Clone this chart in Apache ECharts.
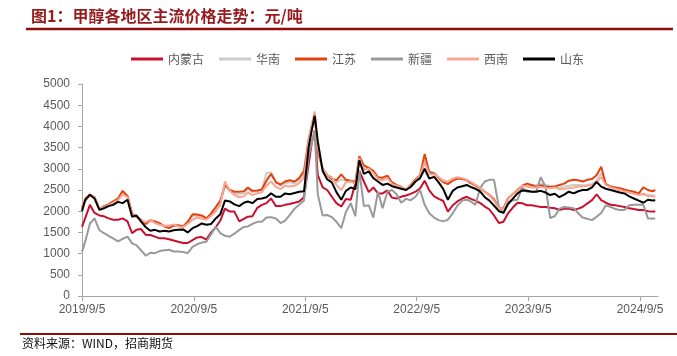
<!DOCTYPE html>
<html><head><meta charset="utf-8">
<script src="https://cdn.jsdelivr.net/npm/echarts@6/dist/echarts.min.js"></script>
<style>html,body{margin:0;padding:0;background:#fff}#c{width:677px;height:356px}</style>
</head><body><div id="c"></div>
<script>
const dates = [
'2019-09-05','2019-09-16','2019-10-01','2019-10-16','2019-11-01','2019-11-16','2019-12-01','2019-12-16',
'2020-01-01','2020-01-16','2020-02-01','2020-02-16','2020-03-01','2020-03-16','2020-04-01','2020-04-16',
'2020-05-01','2020-05-16','2020-06-01','2020-06-16','2020-07-01','2020-07-16','2020-08-01','2020-08-16',
'2020-09-01','2020-09-16','2020-10-01','2020-10-16','2020-11-01','2020-11-16','2020-12-01','2020-12-16',
'2021-01-01','2021-01-16','2021-02-01','2021-02-16','2021-03-01','2021-03-16','2021-04-01','2021-04-16',
'2021-05-01','2021-05-16','2021-06-01','2021-06-16','2021-07-01','2021-07-16','2021-08-01','2021-08-16',
'2021-09-01','2021-09-16','2021-09-26','2021-10-06','2021-10-16','2021-11-01','2021-11-16','2021-12-01',
'2021-12-16','2022-01-01','2022-01-16','2022-02-01','2022-02-16','2022-03-01','2022-03-16','2022-04-01',
'2022-04-16','2022-05-01','2022-05-16','2022-06-01','2022-06-16','2022-07-01','2022-07-16','2022-08-01',
'2022-08-16','2022-09-01','2022-09-16','2022-10-01','2022-10-16','2022-11-01','2022-11-16','2022-12-01',
'2022-12-16','2023-01-01','2023-01-16','2023-02-01','2023-02-16','2023-03-01','2023-03-16','2023-04-01',
'2023-04-16','2023-05-01','2023-05-16','2023-06-01','2023-06-16','2023-07-01','2023-07-16','2023-08-01',
'2023-08-16','2023-09-01','2023-09-16','2023-10-01','2023-10-16','2023-11-01','2023-11-16','2023-12-01',
'2023-12-16','2024-01-01','2024-01-16','2024-02-01','2024-02-16','2024-03-01','2024-03-16','2024-04-01',
'2024-04-16','2024-05-01','2024-05-16','2024-06-01','2024-06-16','2024-07-01','2024-07-16','2024-08-01',
'2024-08-16','2024-09-01','2024-09-16','2024-10-01','2024-10-16','2024-10-25'
];

const neimenggu = [
1630,1850,2150,1960,1900,1880,1830,1800,1800,1830,1760,1480,1560,1580,1440,1440,
1400,1360,1360,1340,1310,1280,1250,1250,1320,1380,1390,1330,1500,1620,1780,2060,
1990,1990,1760,1820,1870,1880,2080,2150,2190,2300,2120,2120,2150,2170,2200,2230,
2330,3100,3600,3900,2850,2560,2500,2340,2190,2110,2290,2270,2650,2950,2700,2450,
2560,2420,2420,2490,2320,2300,2340,2370,2410,2460,2540,2720,2490,2350,2290,2240,
1990,2140,2230,2300,2340,2290,2250,2190,2110,2040,1900,1720,1750,1950,2080,2200,
2190,2140,2140,2120,2100,2100,2080,2070,2030,2060,2060,2030,2060,2100,2180,2260,
2400,2260,2200,2150,2140,2120,2100,2070,2050,2030,2030,2000,1990,1990
];

const huanan = [
2080,2280,2380,2320,2060,2110,2150,2210,2280,2440,2350,1940,1870,1790,1710,1780,
1740,1700,1640,1620,1670,1660,1630,1720,1880,1890,1860,1820,1920,2060,2200,2600,
2480,2420,2400,2420,2520,2450,2470,2520,2900,2920,2700,2600,2660,2680,2660,2740,
2900,3600,3950,4250,3450,2980,2840,2760,2680,2750,2720,2700,2660,3200,3020,3000,
2920,2780,2760,2800,2660,2600,2560,2510,2610,2730,2840,3200,2950,2900,2790,2700,
2660,2740,2780,2770,2740,2670,2610,2540,2450,2370,2260,2050,2060,2290,2400,2500,
2590,2600,2600,2620,2640,2620,2600,2580,2560,2580,2600,2620,2620,2610,2620,2640,
2720,2900,2640,2580,2550,2520,2490,2460,2430,2400,2420,2380,2370,2360
];

const jiangsu = [
2100,2250,2380,2330,2050,2120,2160,2230,2300,2480,2360,1950,1870,1800,1700,1790,
1760,1720,1640,1600,1660,1670,1640,1750,1930,1920,1900,1830,1950,2100,2250,2620,
2500,2460,2460,2470,2560,2480,2490,2510,2720,2880,2680,2630,2700,2730,2700,2780,
2950,3700,4000,4300,3400,3000,2850,2760,2730,2870,2740,2720,2690,3300,3080,3020,
2950,2800,2790,2840,2680,2620,2570,2510,2620,2750,2850,3350,2920,2890,2780,2680,
2640,2720,2770,2760,2730,2660,2610,2540,2460,2380,2280,2060,2070,2300,2400,2500,
2600,2650,2620,2570,2610,2580,2570,2580,2620,2650,2720,2740,2730,2700,2740,2760,
2850,3050,2640,2580,2560,2540,2510,2480,2460,2420,2560,2500,2470,2500
];

const xinjiang = [
1040,1300,1710,1830,1550,1480,1420,1360,1290,1350,1400,1240,1200,1080,950,1020,
1010,1060,1080,1090,1050,1050,1040,1010,1160,1220,1260,1280,1460,1630,1480,1420,
1400,1470,1560,1630,1640,1700,1750,1750,1850,1860,1830,1720,1780,1910,2060,2150,
2250,3300,3600,3900,2400,1900,1910,1860,1750,1600,1980,2190,1880,2950,2120,2140,
1850,2460,2070,2460,2500,2400,2200,2290,2260,2340,2500,2150,1950,1850,1790,1760,
1800,1950,2130,2250,2270,2230,2150,2550,2700,2740,2740,2100,1950,2200,2260,2270,
2560,2460,2460,2460,2800,2570,1840,1880,2060,2100,2090,2070,1950,1850,1820,1790,
1870,1960,2140,2100,2050,2030,2030,2140,2150,2150,2150,1830,1830,1830
];

const xinan = [
2050,2300,2400,2320,2060,2100,2140,2200,2260,2400,2330,1930,1880,1790,1740,1800,
1720,1680,1650,1660,1690,1640,1620,1700,1800,1850,1820,1800,1890,2000,2150,2700,
2480,2380,2330,2350,2440,2380,2420,2450,2600,2700,2570,2520,2600,2580,2600,2660,
2800,3650,4050,4350,3500,2980,2850,2800,2620,2500,2680,2700,2650,3250,2980,3000,
2900,2760,2730,2780,2640,2600,2560,2520,2600,2720,2830,3150,2880,2870,2800,2720,
2700,2770,2800,2780,2740,2690,2620,2550,2450,2370,2250,2060,2050,2280,2400,2520,
2600,2580,2560,2560,2570,2550,2540,2560,2520,2530,2540,2560,2580,2580,2600,2620,
2700,2800,2620,2560,2530,2500,2470,2440,2410,2380,2400,2360,2350,2340
];

const shandong = [
2000,2280,2390,2300,2030,2070,2120,2150,2220,2190,2270,1870,1900,1760,1620,1540,
1560,1520,1540,1520,1550,1560,1570,1500,1600,1650,1710,1680,1700,1830,1930,2250,
2230,2160,2120,2200,2230,2190,2290,2300,2330,2420,2340,2340,2420,2400,2430,2460,
2470,3500,3900,4250,3650,2950,2750,2680,2450,2270,2480,2560,2520,3200,2880,2940,
2780,2700,2620,2650,2590,2560,2530,2500,2570,2700,2780,3000,2770,2810,2680,2520,
2270,2480,2560,2590,2620,2570,2530,2460,2330,2250,2130,2000,1960,2170,2290,2420,
2490,2480,2460,2460,2480,2440,2380,2410,2330,2390,2460,2420,2470,2500,2500,2560,
2690,2580,2530,2500,2470,2440,2420,2350,2300,2250,2200,2270,2250,2260
];

const seriesNames = ['内蒙古','华南','江苏','新疆','西南','山东'];
const seriesValues = [neimenggu, huanan, jiangsu, xinjiang, xinan, shandong];
const seriesColors = ['#C8102E','#CCCCCC','#E2420D','#999999','#F8A592','#000000'];

const xTickLabels = ['2019/9/5','2020/9/5','2021/9/5','2022/9/5','2023/9/5','2024/9/5'];
const xAxisEnd = '2024/11/3';
const yMin = 0, yMax = 5000, yStep = 500;

const titleText = '图1：甲醇各地区主流价格走势：元/吨';
const sourceText = '资料来源：WIND，招商期货';

function utc(s){ const p = s.split(/[-\/]/).map(Number); return Date.UTC(p[0], p[1]-1, p[2]); }
const ORIGIN = utc(xTickLabels[0]);
function dayOf(s){ return Math.round((utc(s) - ORIGIN) / 86400000); }
const tickDays = xTickLabels.map(dayOf);
const labelMap = {};
xTickLabels.forEach((l,i)=>{ labelMap[tickDays[i]] = l; });

const chart = echarts.init(document.getElementById('c'), null, {renderer:'canvas'});
const axisGray = '#A6A6A6';
const labelGray = '#595959';

chart.setOption({
  animation: false,
  backgroundColor: '#fff',
  grid: { left: 82, right: 19, top: 84, bottom: 60, containLabel: false },
  legend: {
    left: 126, top: 48,
    icon: 'rect',
    itemWidth: 32, itemHeight: 3, itemGap: 15,
    textStyle: { fontSize: 12, color: labelGray, fontFamily: '"Noto Sans CJK SC", sans-serif' },
    data: seriesNames
  },
  xAxis: {
    type: 'value', min: 0, max: dayOf(xAxisEnd),
    axisLine: { show: true, lineStyle: { color: axisGray, width: 1 } },
    axisTick: { show: true, customValues: tickDays, length: 5, inside: false, lineStyle: { color: axisGray } },
    axisLabel: { customValues: tickDays, formatter: v => labelMap[Math.round(v)] || '', color: labelGray,
      fontSize: 12, fontFamily: '"Liberation Sans", Arial, sans-serif', margin: 8 },
    splitLine: { show: false }
  },
  yAxis: {
    type: 'value', min: yMin, max: yMax, interval: yStep,
    axisLine: { show: true, lineStyle: { color: axisGray, width: 1 } },
    axisTick: { show: true, length: 4, lineStyle: { color: axisGray } },
    axisLabel: { color: labelGray, fontSize: 12, fontFamily: '"Liberation Sans", Arial, sans-serif', margin: 12,
      formatter: v => String(v) },
    splitLine: { show: false }
  },
  series: seriesNames.map((n, k) => ({
    name: n, type: 'line', symbol: 'none', showSymbol: false,
    data: dates.map((d, i) => [dayOf(d), seriesValues[k][i]]),
    lineStyle: { color: seriesColors[k], width: 2 },
    itemStyle: { color: seriesColors[k] },
    z: 2 + k
  })),
  graphic: [
    { type: 'text', left: 31, top: 8, style: { text: titleText, fill: '#951B1E',
      font: 'bold 16px "Noto Sans CJK SC", sans-serif' } },
    { type: 'line', shape: { x1: 26, y1: 29, x2: 673, y2: 29 }, style: { stroke: '#8E0C0C', lineWidth: 2.5 } },
    { type: 'line', shape: { x1: 20, y1: 334, x2: 677, y2: 334 }, style: { stroke: '#8E0C0C', lineWidth: 2 } },
    { type: 'text', left: 22, top: 337, style: { text: sourceText, fill: '#111',
      font: '12px "Noto Sans CJK SC", sans-serif' } }
  ]
});
</script></body></html>
